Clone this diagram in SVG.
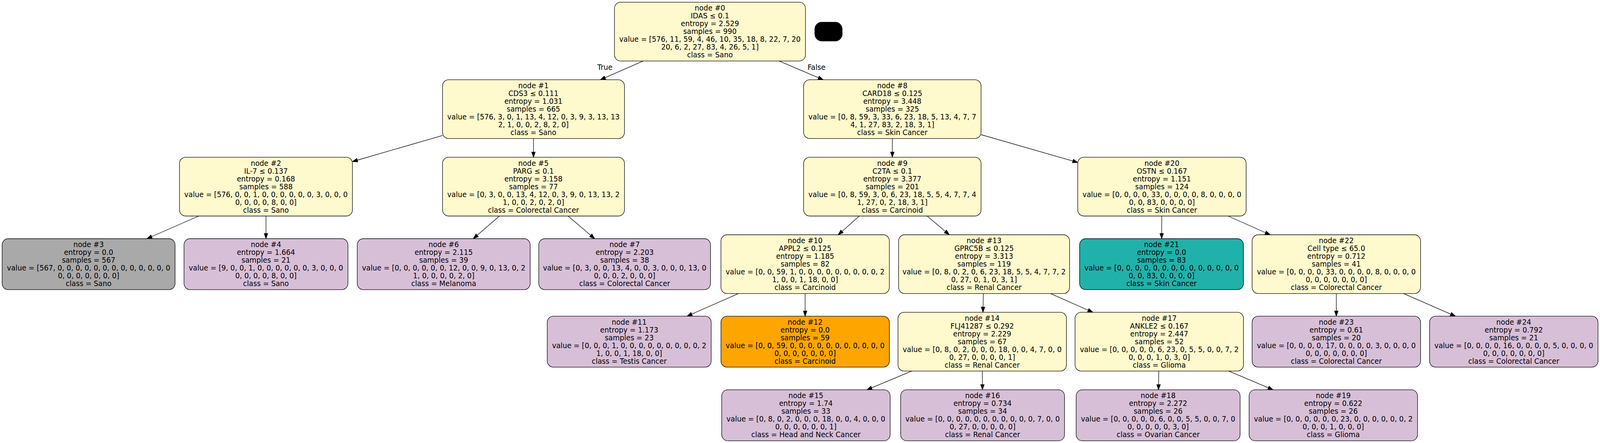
<svg xmlns="http://www.w3.org/2000/svg" width="4211" height="1135" viewBox="0 0 4211 1135">
<style>
.b{stroke:#000;stroke-width:1.33}
.y{fill:#fffacd}.t{fill:#d8bfd8}.g{fill:#a9a9a9}.o{fill:#ffa500}.s{fill:#20b2aa}
text{font-family:"DejaVu Sans","Liberation Sans",sans-serif;font-size:18.67px;text-anchor:middle;fill:#000}
.e line{stroke:#000;stroke-width:1.33;marker-end:url(#ah)}
</style>
<defs>
<marker id="ah" markerUnits="userSpaceOnUse" markerWidth="16" markerHeight="12" refX="13.3" refY="4.67" orient="auto" overflow="visible">
<path d="M0,0 L13.3,4.67 L0,9.33 Z" fill="#000" stroke="#000" stroke-width="1.33"/>
</marker>
</defs>
<rect width="4211" height="1135" fill="#fff"/>
<g id="tree" transform="scale(0.9727,1)">
<g id="edges" class="e">
<line x1="1692.4" y1="156.3" x2="1580.1" y2="204.3"/>
<line x1="2050.5" y1="156.3" x2="2166.5" y2="204.3"/>
<line x1="1164.6" y1="347.1" x2="927.6" y2="414"/>
<line x1="1404" y1="354.9" x2="1404" y2="402.9"/>
<line x1="523" y1="553.5" x2="386.7" y2="611.5"/>
<line x1="700" y1="553.5" x2="700" y2="611.5"/>
<line x1="1314.4" y1="553.5" x2="1245.5" y2="611.5"/>
<line x1="1495" y1="553.5" x2="1565.1" y2="611.5"/>
<line x1="2348.5" y1="354.9" x2="2348.5" y2="402.9"/>
<line x1="2582" y1="345" x2="2836.4" y2="416.2"/>
<line x1="2261.5" y1="553.5" x2="2206" y2="601.5"/>
<line x1="2440.1" y1="553.5" x2="2498.4" y2="601.5"/>
<line x1="3057.6" y1="553.5" x2="3057.3" y2="611.5"/>
<line x1="3232" y1="553.5" x2="3343" y2="601.5"/>
<line x1="1943.4" y1="752.1" x2="1808.2" y2="810.1"/>
<line x1="2119" y1="752.1" x2="2119" y2="810.1"/>
<line x1="2588.1" y1="752.1" x2="2586.9" y2="800.1"/>
<line x1="2764.8" y1="752.1" x2="2876.2" y2="800.1"/>
<line x1="3517" y1="752.1" x2="3517" y2="810.1"/>
<line x1="3694.1" y1="752.1" x2="3830.5" y2="810.1"/>
<line x1="2399.7" y1="950.7" x2="2281.6" y2="998.7"/>
<line x1="2585.4" y1="950.7" x2="2585.7" y2="998.7"/>
<line x1="3049.8" y1="950.7" x2="3049" y2="998.7"/>
<line x1="3233.9" y1="950.7" x2="3350.4" y2="998.7"/>
<text x="1592" y="179">True</text>
<text x="2149" y="179">False</text>
</g>
<g id="node0"><rect class="b y" x="1617.2" y="5.7" width="502.7" height="150.6" rx="16"/>
<text x="1868.5" y="27.5">node #0</text><text x="1868.5" y="47.5">IDAS ≤ 0.1</text><text x="1868.5" y="67.5">entropy = 2.529</text><text x="1868.5" y="87.5">samples = 990</text><text x="1868.5" y="107.5">value = [576, 11, 59, 4, 46, 10, 35, 18, 8, 22, 7, 20</text><text x="1868.5" y="127.5">20, 6, 2, 27, 83, 4, 26, 5, 1]</text><text x="1868.5" y="147.5">class = Sano</text></g>
<g id="blank"><rect x="2144.5" y="57" width="72" height="48" rx="18" fill="#000" stroke="#000" stroke-width="1.33"/></g>
<g id="node1"><rect class="b y" x="1164.6" y="204.3" width="478.9" height="150.6" rx="16"/>
<text x="1404" y="226.1">node #1</text><text x="1404" y="246.1">CDS3 ≤ 0.111</text><text x="1404" y="266.1">entropy = 1.031</text><text x="1404" y="286.1">samples = 665</text><text x="1404" y="306.1">value = [576, 3, 0, 1, 13, 4, 12, 0, 3, 9, 3, 13, 13</text><text x="1404" y="326.1">2, 1, 0, 0, 2, 8, 2, 0]</text><text x="1404" y="346.1">class = Sano</text></g>
<g id="node8"><rect class="b y" x="2115" y="204.3" width="467" height="150.6" rx="16"/>
<text x="2348.5" y="226.1">node #8</text><text x="2348.5" y="246.1">CARD18 ≤ 0.125</text><text x="2348.5" y="266.1">entropy = 3.448</text><text x="2348.5" y="286.1">samples = 325</text><text x="2348.5" y="306.1">value = [0, 8, 59, 3, 33, 6, 23, 18, 5, 13, 4, 7, 7</text><text x="2348.5" y="326.1">4, 1, 27, 83, 2, 18, 3, 1]</text><text x="2348.5" y="346.1">class = Skin Cancer</text></g>
<g id="node2"><rect class="b y" x="472.4" y="402.9" width="455.2" height="150.6" rx="16"/>
<text x="700" y="424.7">node #2</text><text x="700" y="444.7">IL-7 ≤ 0.137</text><text x="700" y="464.7">entropy = 0.168</text><text x="700" y="484.7">samples = 588</text><text x="700" y="504.7">value = [576, 0, 0, 1, 0, 0, 0, 0, 0, 0, 3, 0, 0, 0</text><text x="700" y="524.7">0, 0, 0, 0, 8, 0, 0]</text><text x="700" y="544.7">class = Sano</text></g>
<g id="node5"><rect class="b y" x="1164.6" y="402.9" width="478.9" height="150.6" rx="16"/>
<text x="1404" y="424.7">node #5</text><text x="1404" y="444.7">PARG ≤ 0.1</text><text x="1404" y="464.7">entropy = 3.158</text><text x="1404" y="484.7">samples = 77</text><text x="1404" y="504.7">value = [0, 3, 0, 0, 13, 4, 12, 0, 3, 9, 0, 13, 13, 2</text><text x="1404" y="524.7">1, 0, 0, 2, 0, 2, 0]</text><text x="1404" y="544.7">class = Colorectal Cancer</text></g>
<g id="node9"><rect class="b y" x="2115" y="402.9" width="467" height="150.6" rx="16"/>
<text x="2348.5" y="424.7">node #9</text><text x="2348.5" y="444.7">C2TA ≤ 0.1</text><text x="2348.5" y="464.7">entropy = 3.377</text><text x="2348.5" y="484.7">samples = 201</text><text x="2348.5" y="504.7">value = [0, 8, 59, 3, 0, 6, 23, 18, 5, 5, 4, 7, 7, 4</text><text x="2348.5" y="524.7">1, 27, 0, 2, 18, 3, 1]</text><text x="2348.5" y="544.7">class = Carcinoid</text></g>
<g id="node20"><rect class="b y" x="2836.4" y="402.9" width="443.3" height="150.6" rx="16"/>
<text x="3058" y="424.7">node #20</text><text x="3058" y="444.7">OSTN ≤ 0.167</text><text x="3058" y="464.7">entropy = 1.151</text><text x="3058" y="484.7">samples = 124</text><text x="3058" y="504.7">value = [0, 0, 0, 0, 33, 0, 0, 0, 0, 8, 0, 0, 0, 0</text><text x="3058" y="524.7">0, 0, 83, 0, 0, 0, 0]</text><text x="3058" y="544.7">class = Skin Cancer</text></g>
<g id="node3"><rect class="b g" x="5.6" y="611.5" width="455.2" height="130.6" rx="16"/>
<text x="233.2" y="633.3">node #3</text><text x="233.2" y="653.3">entropy = 0.0</text><text x="233.2" y="673.3">samples = 567</text><text x="233.2" y="693.3">value = [567, 0, 0, 0, 0, 0, 0, 0, 0, 0, 0, 0, 0, 0</text><text x="233.2" y="713.3">0, 0, 0, 0, 0, 0, 0]</text><text x="233.2" y="733.3">class = Sano</text></g>
<g id="node4"><rect class="b t" x="484.3" y="611.5" width="431.4" height="130.6" rx="16"/>
<text x="700" y="633.3">node #4</text><text x="700" y="653.3">entropy = 1.664</text><text x="700" y="673.3">samples = 21</text><text x="700" y="693.3">value = [9, 0, 0, 1, 0, 0, 0, 0, 0, 0, 3, 0, 0, 0</text><text x="700" y="713.3">0, 0, 0, 0, 8, 0, 0]</text><text x="700" y="733.3">class = Sano</text></g>
<g id="node6"><rect class="b t" x="940.2" y="611.5" width="455.2" height="130.6" rx="16"/>
<text x="1167.8" y="633.3">node #6</text><text x="1167.8" y="653.3">entropy = 2.115</text><text x="1167.8" y="673.3">samples = 39</text><text x="1167.8" y="693.3">value = [0, 0, 0, 0, 0, 0, 12, 0, 0, 9, 0, 13, 0, 2</text><text x="1167.8" y="713.3">1, 0, 0, 0, 0, 2, 0]</text><text x="1167.8" y="733.3">class = Melanoma</text></g>
<g id="node7"><rect class="b t" x="1418" y="611.5" width="452" height="130.6" rx="16"/>
<text x="1644" y="633.3">node #7</text><text x="1644" y="653.3">entropy = 2.203</text><text x="1644" y="673.3">samples = 38</text><text x="1644" y="693.3">value = [0, 3, 0, 0, 13, 4, 0, 0, 3, 0, 0, 0, 13, 0</text><text x="1644" y="713.3">0, 0, 0, 2, 0, 0, 0]</text><text x="1644" y="733.3">class = Colorectal Cancer</text></g>
<g id="node10"><rect class="b y" x="1897.4" y="601.5" width="443.3" height="150.6" rx="16"/>
<text x="2119" y="623.3">node #10</text><text x="2119" y="643.3">APPL2 ≤ 0.125</text><text x="2119" y="663.3">entropy = 1.185</text><text x="2119" y="683.3">samples = 82</text><text x="2119" y="703.3">value = [0, 0, 59, 1, 0, 0, 0, 0, 0, 0, 0, 0, 0, 2</text><text x="2119" y="723.3">1, 0, 0, 1, 18, 0, 0]</text><text x="2119" y="743.3">class = Carcinoid</text></g>
<g id="node13"><rect class="b y" x="2365" y="601.5" width="450" height="150.6" rx="16"/>
<text x="2590" y="623.3">node #13</text><text x="2590" y="643.3">GPRC5B ≤ 0.125</text><text x="2590" y="663.3">entropy = 3.313</text><text x="2590" y="683.3">samples = 119</text><text x="2590" y="703.3">value = [0, 8, 0, 2, 0, 6, 23, 18, 5, 5, 4, 7, 7, 2</text><text x="2590" y="723.3">0, 27, 0, 1, 0, 3, 1]</text><text x="2590" y="743.3">class = Renal Cancer</text></g>
<g id="node21"><rect class="b s" x="2841.3" y="611.5" width="431.4" height="130.6" rx="16"/>
<text x="3057" y="633.3">node #21</text><text x="3057" y="653.3">entropy = 0.0</text><text x="3057" y="673.3">samples = 83</text><text x="3057" y="693.3">value = [0, 0, 0, 0, 0, 0, 0, 0, 0, 0, 0, 0, 0, 0</text><text x="3057" y="713.3">0, 0, 83, 0, 0, 0, 0]</text><text x="3057" y="733.3">class = Skin Cancer</text></g>
<g id="node22"><rect class="b y" x="3295.4" y="601.5" width="443.3" height="150.6" rx="16"/>
<text x="3517" y="623.3">node #22</text><text x="3517" y="643.3">Cell type ≤ 65.0</text><text x="3517" y="663.3">entropy = 0.712</text><text x="3517" y="683.3">samples = 41</text><text x="3517" y="703.3">value = [0, 0, 0, 0, 33, 0, 0, 0, 0, 8, 0, 0, 0, 0</text><text x="3517" y="723.3">0, 0, 0, 0, 0, 0, 0]</text><text x="3517" y="743.3">class = Colorectal Cancer</text></g>
<g id="node11"><rect class="b t" x="1440.3" y="810.1" width="431.4" height="130.6" rx="16"/>
<text x="1656" y="831.9">node #11</text><text x="1656" y="851.9">entropy = 1.173</text><text x="1656" y="871.9">samples = 23</text><text x="1656" y="891.9">value = [0, 0, 0, 1, 0, 0, 0, 0, 0, 0, 0, 0, 0, 2</text><text x="1656" y="911.9">1, 0, 0, 1, 18, 0, 0]</text><text x="1656" y="931.9">class = Testis Cancer</text></g>
<g id="node12"><rect class="b o" x="1897.4" y="810.1" width="443.3" height="130.6" rx="16"/>
<text x="2119" y="831.9">node #12</text><text x="2119" y="851.9">entropy = 0.0</text><text x="2119" y="871.9">samples = 59</text><text x="2119" y="891.9">value = [0, 0, 59, 0, 0, 0, 0, 0, 0, 0, 0, 0, 0, 0</text><text x="2119" y="911.9">0, 0, 0, 0, 0, 0, 0]</text><text x="2119" y="931.9">class = Carcinoid</text></g>
<g id="node14"><rect class="b y" x="2363.4" y="800.1" width="443.3" height="150.6" rx="16"/>
<text x="2585" y="821.9">node #14</text><text x="2585" y="841.9">FLJ41287 ≤ 0.292</text><text x="2585" y="861.9">entropy = 2.229</text><text x="2585" y="881.9">samples = 67</text><text x="2585" y="901.9">value = [0, 8, 0, 2, 0, 0, 0, 18, 0, 0, 4, 7, 0, 0</text><text x="2585" y="921.9">0, 27, 0, 0, 0, 0, 1]</text><text x="2585" y="941.9">class = Renal Cancer</text></g>
<g id="node17"><rect class="b y" x="2829.4" y="800.1" width="443.3" height="150.6" rx="16"/>
<text x="3051" y="821.9">node #17</text><text x="3051" y="841.9">ANKLE2 ≤ 0.167</text><text x="3051" y="861.9">entropy = 2.447</text><text x="3051" y="881.9">samples = 52</text><text x="3051" y="901.9">value = [0, 0, 0, 0, 0, 6, 23, 0, 5, 5, 0, 0, 7, 2</text><text x="3051" y="921.9">0, 0, 0, 1, 0, 3, 0]</text><text x="3051" y="941.9">class = Glioma</text></g>
<g id="node23"><rect class="b t" x="3295.4" y="810.1" width="443.3" height="130.6" rx="16"/>
<text x="3517" y="831.9">node #23</text><text x="3517" y="851.9">entropy = 0.61</text><text x="3517" y="871.9">samples = 20</text><text x="3517" y="891.9">value = [0, 0, 0, 0, 17, 0, 0, 0, 0, 3, 0, 0, 0, 0</text><text x="3517" y="911.9">0, 0, 0, 0, 0, 0, 0]</text><text x="3517" y="931.9">class = Colorectal Cancer</text></g>
<g id="node24"><rect class="b t" x="3762.4" y="810.1" width="443.3" height="130.6" rx="16"/>
<text x="3984" y="831.9">node #24</text><text x="3984" y="851.9">entropy = 0.792</text><text x="3984" y="871.9">samples = 21</text><text x="3984" y="891.9">value = [0, 0, 0, 0, 16, 0, 0, 0, 0, 5, 0, 0, 0, 0</text><text x="3984" y="911.9">0, 0, 0, 0, 0, 0, 0]</text><text x="3984" y="931.9">class = Colorectal Cancer</text></g>
<g id="node15"><rect class="b t" x="1899.4" y="998.7" width="443.3" height="130.6" rx="16"/>
<text x="2121" y="1020.5">node #15</text><text x="2121" y="1040.5">entropy = 1.74</text><text x="2121" y="1060.5">samples = 33</text><text x="2121" y="1080.5">value = [0, 8, 0, 2, 0, 0, 0, 18, 0, 0, 4, 0, 0, 0</text><text x="2121" y="1100.5">0, 0, 0, 0, 0, 0, 1]</text><text x="2121" y="1120.5">class = Head and Neck Cancer</text></g>
<g id="node16"><rect class="b t" x="2370.3" y="998.7" width="431.4" height="130.6" rx="16"/>
<text x="2586" y="1020.5">node #16</text><text x="2586" y="1040.5">entropy = 0.734</text><text x="2586" y="1060.5">samples = 34</text><text x="2586" y="1080.5">value = [0, 0, 0, 0, 0, 0, 0, 0, 0, 0, 0, 7, 0, 0</text><text x="2586" y="1100.5">0, 27, 0, 0, 0, 0, 0]</text><text x="2586" y="1120.5">class = Renal Cancer</text></g>
<g id="node18"><rect class="b t" x="2832.3" y="998.7" width="431.4" height="130.6" rx="16"/>
<text x="3048" y="1020.5">node #18</text><text x="3048" y="1040.5">entropy = 2.272</text><text x="3048" y="1060.5">samples = 26</text><text x="3048" y="1080.5">value = [0, 0, 0, 0, 0, 6, 0, 0, 5, 5, 0, 0, 7, 0</text><text x="3048" y="1100.5">0, 0, 0, 0, 0, 3, 0]</text><text x="3048" y="1120.5">class = Ovarian Cancer</text></g>
<g id="node19"><rect class="b t" x="3287.4" y="998.7" width="443.3" height="130.6" rx="16"/>
<text x="3509" y="1020.5">node #19</text><text x="3509" y="1040.5">entropy = 0.622</text><text x="3509" y="1060.5">samples = 26</text><text x="3509" y="1080.5">value = [0, 0, 0, 0, 0, 0, 23, 0, 0, 0, 0, 0, 0, 2</text><text x="3509" y="1100.5">0, 0, 0, 1, 0, 0, 0]</text><text x="3509" y="1120.5">class = Glioma</text></g>
</g>
</svg>
